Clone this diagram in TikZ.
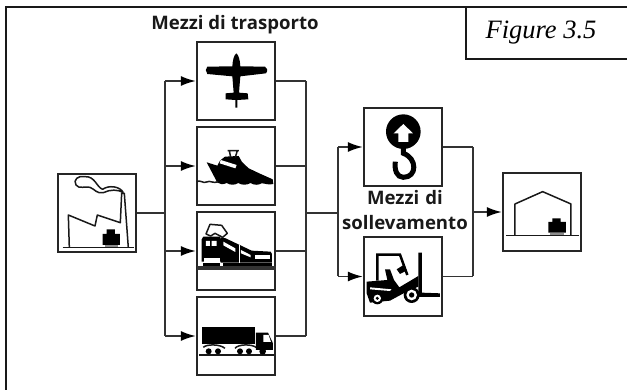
\documentclass[tikz,border=0pt]{standalone}
\usepackage{fontspec}
\setmainfont{Liberation Serif}
\newfontfamily\labelfont{Open Sans}
\usetikzlibrary{arrows.meta}
\tikzset{
  iconbox/.style={draw=black!85, line width=1.8pt, fill=white, minimum width=78.5pt, minimum height=78.5pt, inner sep=0pt},
  wire/.style={draw=black!80, line width=1.7pt},
  arr/.style={wire, -{Latex[length=15pt,width=10pt,black]}},
  title/.style={font=\labelfont\bfseries\fontsize{18.6}{25}\selectfont, text=black!90, align=center, inner sep=0pt},
  ink/.style={fill=black, draw=none},
  sketch/.style={draw=black!90, line width=1.5pt, fill=none, line join=round}
}
\begin{document}
\begin{tikzpicture}[x=1pt,y=-1pt]
        \useasboundingbox (0,0) rectangle (627,390);
        \coordinate (fa) at (6,390);
        \coordinate (fb) at (6,7);
        \coordinate (fc) at (627,7);
        \coordinate (fd) at (466,7);
        \coordinate (fe) at (466,59);
        \coordinate (ff) at (627,59);
        \draw[line width=2.5pt, draw=black!90] (fa) -- (fb) -- (fc) (fd) -- (fe) -- (ff);
        \node[font=\itshape\fontsize{26.5}{28}\selectfont, inner sep=0pt] (figlabel) at (541,33) {Figure 3.5};
        \node[title] (transport) at (235,25) {Mezzi di trasporto};
        \node[iconbox] (factory) at (97,213) {};
        \node[iconbox] (plane) at (236,81) {};
        \node[iconbox] (ship) at (236,166) {};
        \node[iconbox] (train) at (236,251) {};
        \node[iconbox] (truck) at (236,336) {};
        \node[iconbox] (crane) at (403,147) {};
        \node[iconbox] (fork) at (403,276.5) {};
        \node[iconbox] (store) at (542,212) {};
        \node[title, text width=130pt] (lifting) at (405,210.5) {Mezzi di\\sollevamento};
        \coordinate (busa) at (165,213);
        \coordinate (busb) at (306,213);
        \coordinate (busc) at (338,213);
        \coordinate (busd) at (473,212);
        \coordinate (tipa) at (165,81);
        \coordinate (tipb) at (165,336);
        \coordinate (tipc) at (306,81);
        \coordinate (tipd) at (306,336);
        \coordinate (tipe) at (338,147);
        \coordinate (tipf) at (338,276.5);
        \coordinate (tipg) at (473,147);
        \coordinate (tiph) at (473,276.5);
        \draw[wire] (factory) -- (busa) (tipa) -- (tipb);
        \foreach \x in {plane,ship,train,truck}{
        \draw[arr] (busa |- \x) -- (\x);
        \draw[wire] (\x) -- (busb |- \x);
        }
        \draw[wire] (tipc) -- (tipd) (busb) -- (busc) (tipe) -- (tipf) (tipg) -- (tiph);
        \foreach \x in {crane,fork}{
        \draw[arr] (busc |- \x) -- (\x);
        \draw[wire] (\x) -- (busd |- \x);
        }
        \draw[arr] (busd) -- (store);
        % factory
        \begin{scope}[shift={(40,150)},x=0.3333pt,y=-0.3333pt]
        \draw[sketch] (68,293) -- (282,293);
        \draw[sketch] (88,293) -- (85,195) -- (165,228) -- (172,195) -- (241,218) -- (245,130) -- (253,130) -- (265,293);
        \draw[sketch] (250,128) .. controls (240,108) and (205,105) .. (188,118) .. controls (170,112) and (165,78) .. (135,80) .. controls (115,75) and (98,90) .. (108,105) .. controls (115,118) and (140,108) .. (150,112) .. controls (165,118) and (170,132) .. (190,128) .. controls (210,118) and (235,118) .. (250,128);
        \path[ink] (188,285) -- (188,252) -- (200,252) -- (200,238) -- (225,238) -- (225,252) -- (240,252) -- (240,285) -- cycle;
        \path[fill=black!45] (194,285) rectangle (233,291);
        \end{scope}
        % plane
        \begin{scope}[shift={(180,0)},x=0.3333pt,y=-0.3333pt]
        \path[ink] (169,160) .. controls (176,165) and (180,180) .. (181,199) -- (255,200) .. controls (262,202) and (264,212) .. (258,220) -- (181,229) -- (177,278) -- (203,280) -- (205,298) -- (172,300) -- (172,323) -- (166,323) -- (166,300) -- (137,298) -- (137,280) -- (161,278) -- (157,229) -- (82,222) .. controls (76,215) and (76,205) .. (82,200) -- (157,199) .. controls (158,180) and (162,165) .. (169,160) -- cycle;
        % ship
        \path[ink] (80,487) -- (112,497) -- (120,482) -- (135,470) -- (176,468) -- (186,486) -- (206,505) -- (242,522) -- (278,538) -- (280,552) .. controls (265,556) and (255,550) .. (245,550) .. controls (235,556) and (222,556) .. (212,549) .. controls (200,556) and (185,556) .. (175,549) .. controls (165,556) and (150,556) .. (140,549) .. controls (130,554) and (120,554) .. (112,548) -- (100,525) -- cycle;
        \path[fill=white] (122,480) -- (170,495) -- (166,505) -- (119,490) -- cycle;
        \draw[sketch] (143,452) -- (177,452) (148,452) -- (152,472) (172,452) -- (166,472);
        \draw[sketch] (50,545) .. controls (60,538) and (70,552) .. (80,546) .. controls (90,540) and (100,552) .. (115,545);
        \end{scope}
        % train
        \begin{scope}[shift={(180,200)},x=0.3333pt,y=-0.3333pt]
        \path[fill=black!80] (50,197) rectangle (287,210);
        \path[ink] (122,112) -- (137,115) -- (215,152) -- (272,155) -- (276,162) -- (276,188) -- (122,188) -- cycle;
        \path[fill=white] (130,125) -- (166,145) -- (166,156) -- (130,136) -- cycle;
        \path[fill=white] (177,135) -- (181,135) -- (181,188) -- (177,188) -- cycle;
        \path[fill=white] (183,150) -- (212,165) -- (212,172) -- (183,160) -- cycle;
        \path[fill=white] (225,165) rectangle (270,176);
        \draw[sketch, fill=white] (78,102) -- (90,73) -- (125,76) -- (142,100) -- (128,112) -- (105,100) -- (92,108) -- cycle;
        \path[ink] (70,110) -- (120,110) -- (125,125) -- (125,185) -- (65,185) -- (65,118) -- cycle;
        \path[fill=white] (78,123) rectangle (90,138) (95,123) rectangle (110,138);
        \path[fill=white] (72,174) rectangle (120,186);
        \path[ink] (68,188) rectangle (120,197);
        \path[ink] (128,188) rectangle (276,197);
        % truck
        \path[ink] (65,382) rectangle (225,433);
        \path[ink] (228,398) -- (264,398) -- (279,430) -- (279,450) -- (228,450) -- cycle;
        \path[fill=white] (250,405) -- (266,405) -- (273,426) -- (250,426) -- cycle;
        \draw[sketch] (58,465) -- (281,465);
        \draw[sketch] (70,442) .. controls (80,432) and (120,432) .. (135,445) (165,445) .. controls (175,432) and (215,432) .. (228,442);
        \path[ink] (86,454) circle (9) (114,454) circle (9) (180,454) circle (9) (207,454) circle (9) (248,454) circle (10);
        \end{scope}
        % crane
        \begin{scope}[shift={(340,90)},x=0.3333pt,y=-0.3333pt]
        \path[ink] (190,125) circle (52);
        \path[fill=white] (190,102) -- (219,130) -- (205,130) -- (205,156) -- (175,156) -- (175,130) -- (161,130) -- cycle;
        \draw[black, line width=5pt] (190,170) -- (190,190) .. controls (232,205) and (232,262) .. (190,262) .. controls (170,262) and (163,240) .. (166,215);
        \end{scope}
        % forklift
        \begin{scope}[shift={(350,230)},x=0.3333pt,y=-0.3333pt]
        \draw[black, line width=2.5pt] (82,152) -- (82,74) -- (150,74) -- (172,135);
        \path[ink] (205,68) -- (216,68) -- (216,188) -- (270,190) -- (270,201) -- (205,201) -- cycle;
        \path[ink] (50,155) -- (112,150) -- (105,118) -- (120,118) -- (132,150) -- (148,172) -- (205,138) -- (205,170) -- (170,185) -- (120,212) -- (60,218) -- (50,190) -- cycle;
        \path[ink] (140,118) -- (162,104) -- (170,122) -- (150,132) -- cycle;
        \path[fill=white] (60,172) -- (125,178) -- (120,183) -- (60,178) -- cycle;
        \path[ink] (82,205) circle (18) (185,195) circle (24);
        \path[fill=white] (82,205) circle (11) (185,195) circle (16);
        \path[ink] (82,205) circle (5) (185,195) circle (8);
        \end{scope}
        % warehouse
        \begin{scope}[shift={(470,0)},x=0.3333pt,y=-0.3333pt]
        \draw[sketch] (108,706) -- (328,706);
        \draw[sketch] (135,706) -- (135,612) -- (218,575) -- (303,612) -- (303,706);
        \path[ink] (235,698) -- (235,666) -- (247,666) -- (247,655) -- (272,655) -- (272,666) -- (288,666) -- (288,698) -- cycle;
        \path[fill=black!45] (241,698) rectangle (281,704);
        \end{scope}
\end{tikzpicture}
\end{document}
